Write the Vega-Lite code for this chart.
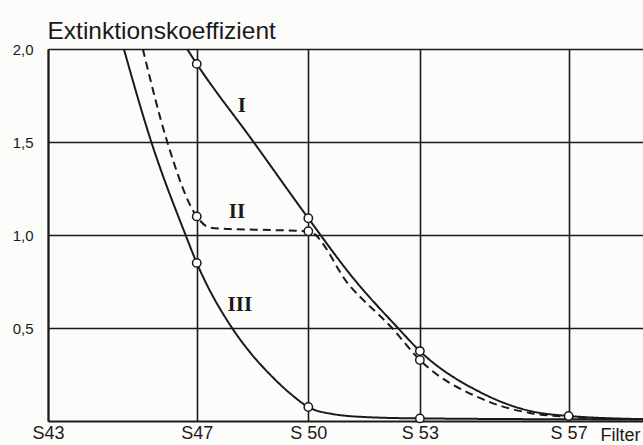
{
  "$schema": "https://vega.github.io/schema/vega-lite/v6.json",
  "width": 595,
  "height": 372,
  "autosize": "none",
  "padding": {"left": 48, "top": 49, "right": 0, "bottom": 24},
  "background": "#fcfcfb",
  "config": {
    "view": {"stroke": null},
    "axis": {
      "domainColor": "#1a1a1a",
      "domainWidth": 2,
      "gridColor": "#1a1a1a",
      "gridWidth": 1.6,
      "gridOpacity": 1,
      "ticks": false,
      "labelColor": "#1a1a1a",
      "titleColor": "#1a1a1a",
      "labelFont": "Liberation Sans",
      "titleFont": "Liberation Sans",
      "titleFontWeight": "normal"
    }
  },
  "datasets": {
    "curves": [
      {"s": "I", "x": 46.74, "y": 2.0},
      {"s": "I", "x": 47.0, "y": 1.92},
      {"s": "I", "x": 48.51, "y": 1.505},
      {"s": "I", "x": 50.0, "y": 1.09},
      {"s": "I", "x": 51.2, "y": 0.77},
      {"s": "I", "x": 52.41, "y": 0.5},
      {"s": "I", "x": 53.0, "y": 0.376},
      {"s": "I", "x": 54.61, "y": 0.156},
      {"s": "I", "x": 55.96, "y": 0.054},
      {"s": "I", "x": 57.0, "y": 0.027},
      {"s": "I", "x": 59.0, "y": 0.01},
      {"s": "II", "x": 45.55, "y": 2.0},
      {"s": "II", "x": 46.2, "y": 1.505},
      {"s": "II", "x": 47.0, "y": 1.1},
      {"s": "II", "x": 47.35, "y": 1.04},
      {"s": "II", "x": 47.89, "y": 1.032},
      {"s": "II", "x": 48.97, "y": 1.027},
      {"s": "II", "x": 50.0, "y": 1.02},
      {"s": "II", "x": 51.1, "y": 0.73},
      {"s": "II", "x": 52.25, "y": 0.5},
      {"s": "II", "x": 53.0, "y": 0.328},
      {"s": "II", "x": 54.61, "y": 0.124},
      {"s": "II", "x": 55.96, "y": 0.043},
      {"s": "II", "x": 57.0, "y": 0.022},
      {"s": "II", "x": 59.0, "y": 0.008},
      {"s": "III", "x": 45.04, "y": 2.0},
      {"s": "III", "x": 45.77, "y": 1.505},
      {"s": "III", "x": 46.68, "y": 1.01},
      {"s": "III", "x": 47.0, "y": 0.85},
      {"s": "III", "x": 47.95, "y": 0.5},
      {"s": "III", "x": 48.43, "y": 0.37},
      {"s": "III", "x": 48.97, "y": 0.25},
      {"s": "III", "x": 49.59, "y": 0.135},
      {"s": "III", "x": 50.0, "y": 0.075},
      {"s": "III", "x": 50.58, "y": 0.04},
      {"s": "III", "x": 51.66, "y": 0.02},
      {"s": "III", "x": 53.0, "y": 0.014},
      {"s": "III", "x": 59.0, "y": 0.008}
    ],
    "points": [
      {"s": "I", "x": 47, "y": 1.92},
      {"s": "I", "x": 50, "y": 1.09},
      {"s": "I", "x": 53, "y": 0.376},
      {"s": "I", "x": 57, "y": 0.027},
      {"s": "II", "x": 47, "y": 1.1},
      {"s": "II", "x": 50, "y": 1.02},
      {"s": "II", "x": 53, "y": 0.328},
      {"s": "III", "x": 47, "y": 0.85},
      {"s": "III", "x": 50, "y": 0.075},
      {"s": "III", "x": 53, "y": 0.014}
    ],
    "labels": [
      {"t": "I", "x": 48.215, "y": 1.694},
      {"t": "II", "x": 48.08, "y": 1.121},
      {"t": "III", "x": 48.16, "y": 0.624}
    ]
  },
  "layer": [
    {
      "data": {"name": "curves"},
      "mark": {"type": "line", "interpolate": "monotone", "clip": true, "color": "#1a1a1a", "strokeWidth": 2},
      "encoding": {
        "x": {
          "field": "x", "type": "quantitative",
          "scale": {"domain": [43, 59], "nice": false, "zero": false},
          "axis": {
            "values": [43, 47, 50, 53, 57],
            "labelExpr": "datum.value == 47 ? 'S47' : datum.value == 43 ? 'S43' : 'S ' + datum.value",
            "labelFontSize": 18,
            "labelPadding": 3,
            "labelFlush": false,
            "title": "Filter",
            "titleFontSize": 18,
            "titleAlign": "right",
            "titleAnchor": "end",
            "titleBaseline": "alphabetic",
            "titleX": 592,
            "titleY": 19
          }
        },
        "y": {
          "field": "y", "type": "quantitative",
          "scale": {"domain": [0, 2], "nice": false},
          "axis": {
            "values": [0.5, 1, 1.5, 2],
            "labelExpr": "replace(format(datum.value, '.1f'), '.', ',')",
            "labelFontSize": 15,
            "labelPadding": 15,
            "title": "Extinktionskoeffizient",
            "titleFontSize": 24.5,
            "titleAngle": 0,
            "titleAlign": "left",
            "titleBaseline": "alphabetic",
            "titleX": -1,
            "titleY": -11
          }
        },
        "detail": {"field": "s"},
        "strokeDash": {
          "field": "s", "type": "nominal",
          "scale": {"domain": ["I", "II", "III"], "range": [[1, 0], [8, 5], [1, 0]]},
          "legend": null
        }
      }
    },
    {
      "data": {"name": "points"},
      "mark": {"type": "point", "shape": "circle", "filled": false, "fill": "#ffffff", "fillOpacity": 1, "stroke": "#1a1a1a", "strokeWidth": 1.5, "size": 70, "opacity": 1},
      "encoding": {
        "x": {"field": "x", "type": "quantitative"},
        "y": {"field": "y", "type": "quantitative"}
      }
    },
    {
      "data": {"name": "labels"},
      "mark": {"type": "text", "font": "Liberation Serif", "fontSize": 21, "fontWeight": "bold", "color": "#1a1a1a", "align": "center", "baseline": "middle"},
      "encoding": {
        "x": {"field": "x", "type": "quantitative"},
        "y": {"field": "y", "type": "quantitative"},
        "text": {"field": "t"}
      }
    }
  ]
}
